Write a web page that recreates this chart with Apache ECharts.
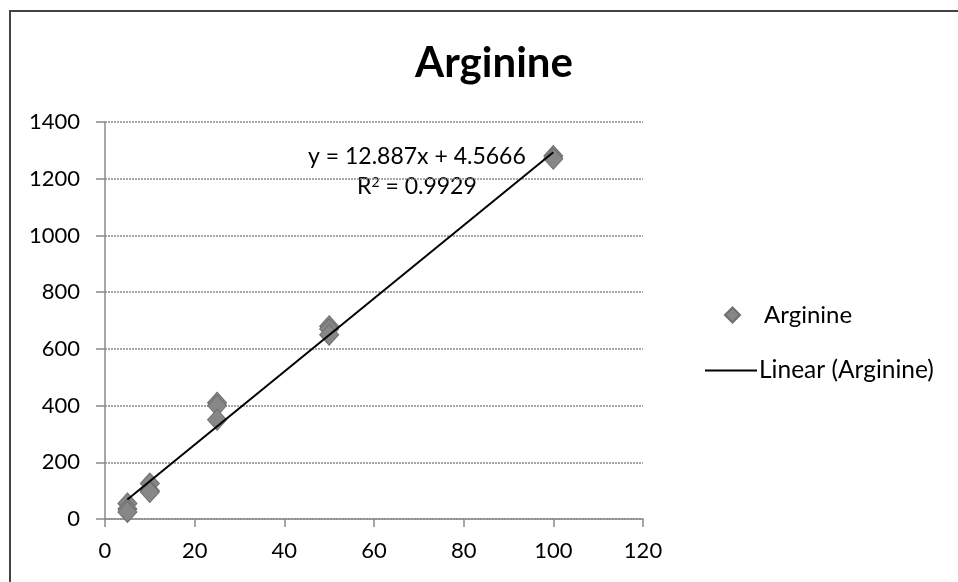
<!DOCTYPE html>
<html>
<head>
<meta charset="utf-8">
<script src="https://cdn.jsdelivr.net/npm/echarts@6/dist/echarts.min.js"></script>
<style>
html,body{margin:0;padding:0;background:#fff;}
#frame{position:absolute;left:9px;top:10px;width:960px;height:590px;border-left:2px solid #444;border-top:2px solid #444;box-sizing:border-box;}
#chart{position:absolute;left:0;top:0;width:958px;height:582px;}
</style>
</head>
<body>
<div id="frame"></div>
<div id="chart"></div>
<script>
// Data
const titleText = 'Arginine';
const xValues = [5, 5, 5, 10, 10, 10, 25, 25, 25, 50, 50, 50, 100, 100];
const yValues = [55, 35, 25, 125, 100, 95, 410, 400, 350, 680, 670, 650, 1280, 1270];
const trendSlope = 12.887;
const trendIntercept = 4.5666;
const trendXRange = [5, 100];
const equationText = 'y = 12.887x + 4.5666';
const r2Value = '0.9929';
const xTicks = [0, 20, 40, 60, 80, 100, 120];
const yTicks = [0, 200, 400, 600, 800, 1000, 1200, 1400];

const FONT = 'Lato, "Open Sans", sans-serif';
const scatterData = xValues.map((x, i) => [x, yValues[i]]);
const trendData = trendXRange.map(x => [x, trendSlope * x + trendIntercept]);

const chart = echarts.init(document.getElementById('chart'), null, {renderer: 'canvas'});
chart.setOption({
  backgroundColor: 'transparent',
  animation: false,
  title: {
    text: titleText,
    left: 489, top: 37, textAlign: 'center',
    textStyle: {fontFamily: FONT, fontWeight: 'bold', fontSize: 42, color: '#000'}
  },
  grid: {left: 105, right: 315, top: 122, bottom: 63},
  xAxis: {
    type: 'value', min: xTicks[0], max: xTicks[xTicks.length - 1], interval: 20,
    axisLine: {show: true, lineStyle: {color: '#8a8a8a', width: 1.5}},
    axisTick: {show: true, length: 8, lineStyle: {color: '#8a8a8a', width: 1.5}},
    axisLabel: {margin: 21, fontFamily: FONT, fontSize: 22, color: '#000', formatter: v => String(v)},
    splitLine: {show: false}
  },
  yAxis: {
    type: 'value', min: yTicks[0], max: yTicks[yTicks.length - 1], interval: 200,
    axisLine: {show: true, lineStyle: {color: '#8a8a8a', width: 1.5}},
    axisTick: {show: true, length: 9, lineStyle: {color: '#8a8a8a', width: 1.5}},
    axisLabel: {margin: 25, fontFamily: FONT, fontSize: 22, color: '#000', formatter: v => String(v)},
    splitLine: {show: true, lineStyle: {color: '#8a8a8a', width: 1.5, type: [2, 1]}}
  },
  legend: [{
    orient: 'vertical', left: 724, top: 303, padding: 0,
    itemWidth: 15, itemHeight: 15,
    data: [{name: 'Arginine', icon: 'diamond'}],
    textStyle: {fontFamily: FONT, fontSize: 24, color: '#000', padding: [0, 0, 0, 19]}
  }, {
    orient: 'vertical', left: 705, top: 358, padding: 0,
    itemWidth: 52, itemHeight: 2,
    data: [{name: 'Linear (Arginine)', icon: 'rect', itemStyle: {color: '#000'}}],
    textStyle: {fontFamily: FONT, fontSize: 24.5, color: '#000', padding: [0, 0, 0, -3]}
  }],
  series: [{
    name: 'Arginine', type: 'scatter', data: scatterData,
    symbol: 'diamond', symbolSize: [19, 21],
    itemStyle: {color: '#878787', borderColor: '#6e6e6e', borderWidth: 1, opacity: 1},
    z: 3
  }, {
    name: 'Linear (Arginine)', type: 'line', data: trendData,
    symbol: 'none', lineStyle: {color: '#000', width: 2},
    itemStyle: {color: '#000'}, z: 4
  }],
  graphic: [{
    type: 'text', left: 308, top: 145,
    style: {text: equationText, font: '23px ' + FONT, fill: '#000'}
  }, {
    type: 'text', left: 357, top: 175,
    style: {
      text: 'R{sup|2} = ' + r2Value,
      font: '23px ' + FONT, fill: '#000',
      rich: {sup: {fontSize: 14, fontFamily: FONT, verticalAlign: 'top', padding: [0, 0, 10, 0]}}
    }
  }]
});
</script>
</body>
</html>
